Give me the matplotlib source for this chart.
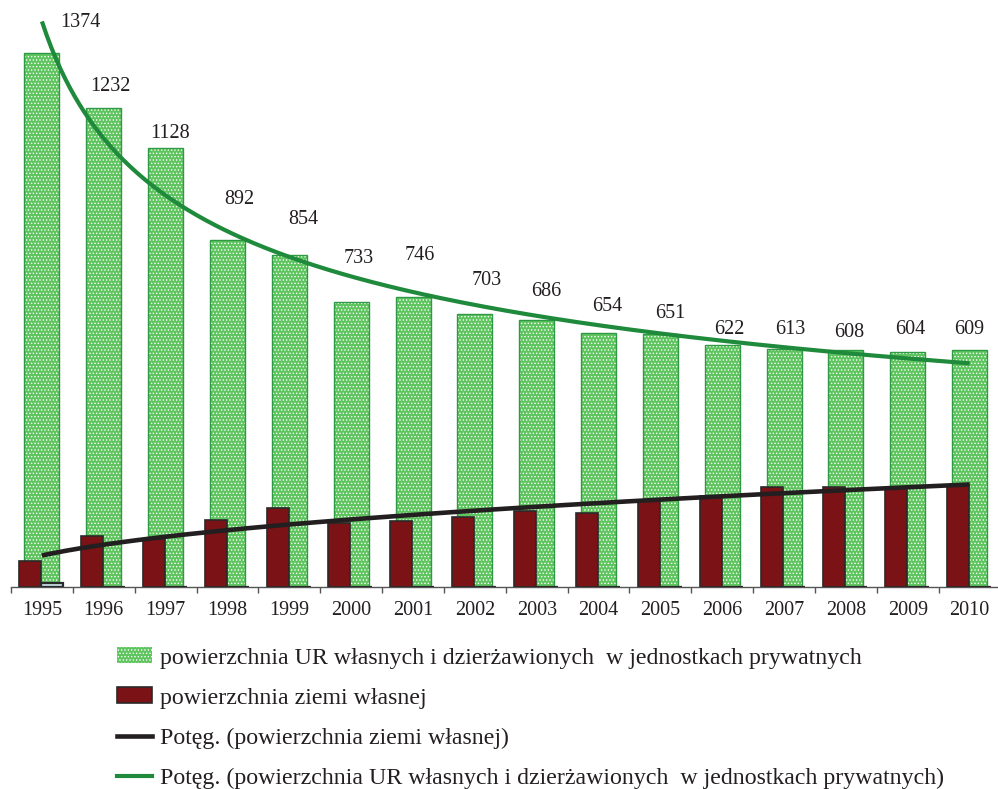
import numpy as np
import matplotlib
matplotlib.use("Agg")
import matplotlib.pyplot as plt
from matplotlib.patches import Patch
from matplotlib.lines import Line2D

plt.rcParams['font.family'] = ['Liberation Serif', 'DejaVu Serif']
plt.rcParams['hatch.linewidth'] = 0.6

# --- data (tys. ha) ---
years = [str(y) for y in range(1995, 2011)]
ur_total = [1374, 1232, 1128, 892, 854, 733, 746, 703, 686, 654, 651, 622, 613, 608, 604, 609]
own_land = [67, 131, 123, 172, 202, 165, 169, 179, 195, 190, 224, 234, 257, 257, 254, 263]
other_land = [10, 0, 0, 0, 0, 0, 0, 0, 0, 0, 0, 0, 0, 0, 0, 0]

# value-label offsets (pixels) from the top of each green bar
label_dx = [38, 7, 4.5, 12, 14, 8, 7, 12, 10, 9, 10, 7, 6, 3, 2, 0]
label_dy = [30.5, 21, 14.5, 41, 35, 43, 41, 33, 28.4, 26, 20, 16, 19, 18, 23, 21]

lbl_ur = "powierzchnia UR własnych i dzierżawionych  w jednostkach prywatnych"
lbl_own = "powierzchnia ziemi własnej"
lbl_own_tr = "Potęg. (powierzchnia ziemi własnej)"
lbl_ur_tr = "Potęg. (powierzchnia UR własnych i dzierżawionych  w jednostkach prywatnych)"

GREEN_FILL = '#5ec45e'
GREEN_EDGE = '#2f9a45'
GREEN_LINE = '#1f8a3c'
RED_FILL = '#7a1216'
DARK = '#231f20'


def power_trend(values):
    """Least-squares power fit y = a * x^b on x = 1..n (as in spreadsheet trendlines)."""
    x = np.arange(1, len(values) + 1)
    b, lna = np.polyfit(np.log(x), np.log(values), 1)
    return np.exp(lna), b


fig = plt.figure(figsize=(9.98, 7.89), dpi=100)
W, H = 998, 789
ax = fig.add_axes([11 / W, (H - 587) / H, 16 * 61.85 / W, 583.5 / H])

pos = np.arange(len(years))

# wide dotted green bars
ax.bar(pos, ur_total, width=0.566, color=GREEN_FILL, edgecolor='white',
       hatch='.....', linewidth=0, zorder=2)
ax.bar(pos, ur_total, width=0.566, fill=False, edgecolor=GREEN_EDGE,
       linewidth=1.0, zorder=2.1)

# narrow dark red bars and the small companion series
ax.bar(pos - 0.19, own_land, width=0.355, color=RED_FILL, edgecolor='#2a2a2a',
       linewidth=1.2, zorder=3)
ax.bar(pos + 0.165, other_land, width=0.355, color='#c9dde8', edgecolor='#2a2a2a',
       linewidth=1.6, zorder=3)

# power trend lines
xs = np.linspace(1, len(years), 400)
a_g, b_g = power_trend(ur_total)
a_r, b_r = power_trend(own_land)
ax.plot(xs - 1, a_g * xs ** b_g, color=GREEN_LINE, lw=3.0, zorder=4,
        solid_capstyle='butt')
ax.plot(xs - 1, a_r * xs ** b_r, color=DARK, lw=3.3, zorder=4,
        solid_capstyle='butt')

# value labels
for i, v in enumerate(ur_total):
    ax.annotate(str(v), xy=(pos[i], v),
                xytext=(label_dx[i] * 0.72, label_dy[i] * 0.72),
                textcoords='offset points', ha='center', va='center',
                fontsize=14.5, color='#231f20', zorder=5)

ax.set_xlim(-0.5, len(years) - 0.5)
ax.set_ylim(0, 1500)
ax.set_yticks([])
for s in ('top', 'right', 'left'):
    ax.spines[s].set_visible(False)
ax.spines['bottom'].set_color('#555555')
ax.spines['bottom'].set_linewidth(1.0)
ax.set_xticks(pos)
ax.set_xticklabels(years, fontsize=14.5, color='#231f20')
ax.tick_params(axis='x', which='major', length=0, pad=10)
ax.set_xticks(np.arange(-0.5, len(years), 1.0), minor=True)
ax.tick_params(axis='x', which='minor', length=4, width=1.0, color='#555555')
ax.patch.set_alpha(0)

handles = [
    Patch(facecolor=GREEN_FILL, edgecolor='white', hatch='.....', linewidth=0),
    Patch(facecolor=RED_FILL, edgecolor='#2a2a2a', linewidth=1.2),
    Line2D([0], [0], color=DARK, lw=3.3),
    Line2D([0], [0], color=GREEN_LINE, lw=3.0),
]
labels = [lbl_ur, lbl_own, lbl_own_tr, lbl_ur_tr]
fig.legend(handles, labels, loc='center left',
           bbox_to_anchor=(117 / W, 1 - 718 / H), frameon=False,
           fontsize=17.2, handlelength=1.48, handleheight=0.66,
           handletextpad=0.3, labelspacing=0.78, borderpad=0, borderaxespad=0,
           labelcolor='#231f20')

fig.savefig('out.png', dpi=100)
